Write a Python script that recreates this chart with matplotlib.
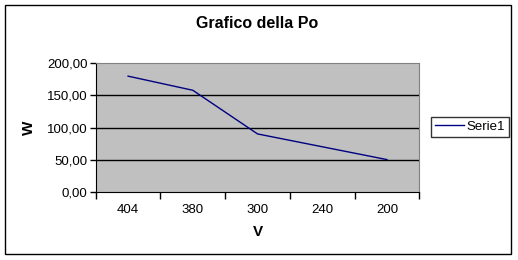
import matplotlib.pyplot as plt
from matplotlib.patches import Rectangle
from matplotlib.ticker import FuncFormatter

plt.rcParams['font.family'] = ['Liberation Sans', 'DejaVu Sans']

categorie = ['404', '380', '300', '240', '200']
potenza = [180, 158, 90, 70, 50]
y_ticks = [0, 50, 100, 150, 200]

fig = plt.figure(figsize=(5.18, 2.6), dpi=100)
fig.patches.append(Rectangle((5 / 518, 6 / 260), 506 / 518, 249 / 260,
                             transform=fig.transFigure, fill=False,
                             edgecolor='black', linewidth=1))

ax = fig.add_axes([0.1848, 0.2627, 0.6247, 0.4938])
ax.set_facecolor('#C0C0C0')

x = list(range(len(categorie)))
line, = ax.plot(x, potenza, color='#000080', linewidth=1, label='Serie1')

ax.set_xlim(-0.5, len(categorie) - 0.5)
ax.set_ylim(0, 200)
ax.set_yticks(y_ticks)
ax.yaxis.set_major_formatter(FuncFormatter(lambda v, p: f'{v:.2f}'.replace('.', ',')))
for v in y_ticks[1:-1]:
    ax.axhline(v, color='black', linewidth=1, zorder=1)

ax.set_xticks([i - 0.5 for i in range(len(categorie) + 1)])
ax.set_xticklabels([])
ax.set_xticks(x, minor=True)
ax.set_xticklabels(categorie, minor=True)
ax.tick_params(axis='x', which='major', direction='out', length=5, width=1, color='black')
ax.tick_params(axis='x', which='minor', length=0, pad=9, labelsize=9.5)
ax.tick_params(axis='y', direction='out', length=4, width=1, labelsize=9.5, pad=2)

for s in ['top', 'right']:
    ax.spines[s].set_color('#808080')
for s in ['left', 'bottom']:
    ax.spines[s].set_color('black')

fig.text(257.5 / 518, 1 - 24 / 260, 'Grafico della Po', fontsize=11.5,
         fontweight='bold', ha='center', va='center')
ax.set_xlabel('V', fontsize=11, fontweight='bold', labelpad=6)
ax.set_ylabel('W', fontsize=11, fontweight='bold', labelpad=8)

fig.legend(handles=[line], loc='center left', bbox_to_anchor=(431 / 518, 1 - 127 / 260),
           frameon=True, fancybox=False, edgecolor='black', fontsize=9.5,
           handlelength=2.2, handletextpad=0.2, borderpad=0.3, borderaxespad=0)

fig.savefig('out.png', dpi=100)
